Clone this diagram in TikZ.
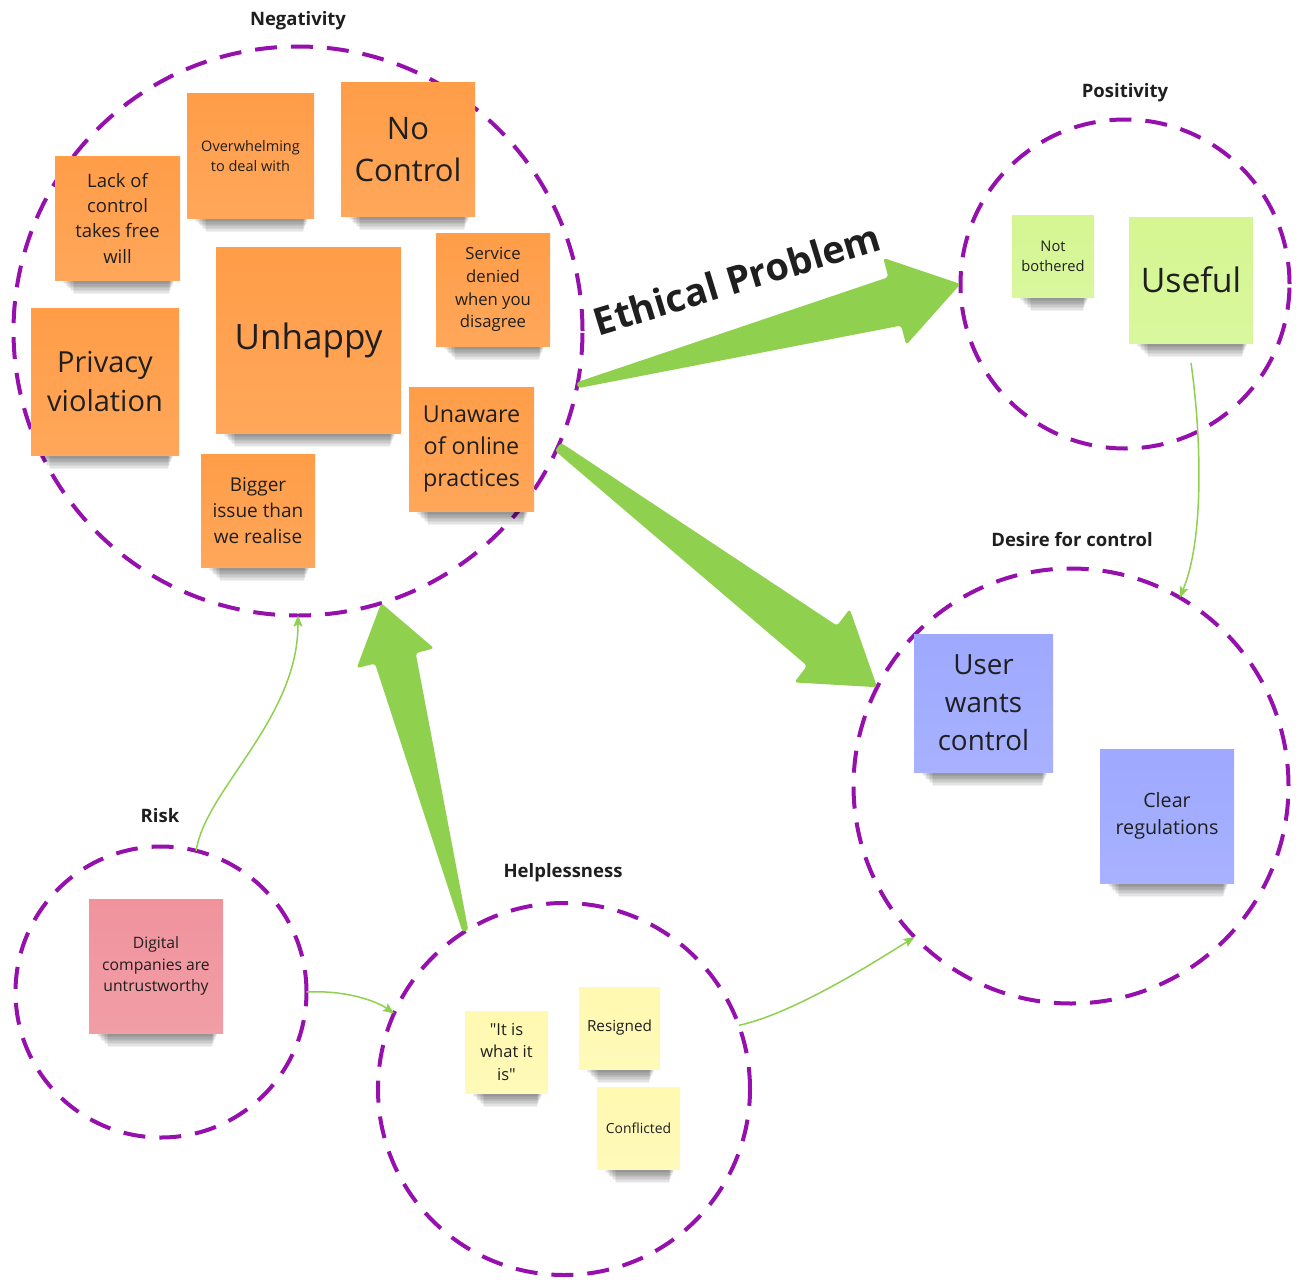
\documentclass[tikz,border=0pt]{standalone}
\usepackage{fontspec}
\setmainfont{Open Sans}[Ligatures=TeXOff]
\usetikzlibrary{arrows.meta,calc}

\definecolor{clusterpurple}{HTML}{9510AC}
\definecolor{flowgreen}{HTML}{8FD14F}
\definecolor{noteorange}{HTML}{FF9D48}
\definecolor{notegreen}{HTML}{D5F692}
\definecolor{noteblue}{HTML}{9EA9FF}
\definecolor{notered}{HTML}{F0939D}
\definecolor{noteyellow}{HTML}{FFF9B1}
\definecolor{inktext}{HTML}{1F1F1F}

% font of a given size with matching line spacing
\newcommand\sizedfont[1]{\fontsize{#1}{\fpeval{1.37*#1}pt}\selectfont}

% sticky note: name, x0, y0, x1, y1, colour, font size, text
\newcommand\stickynote[8]{%
  \foreach \k in {1,...,10}
    \fill[black, opacity=0.055] (#2+5+1.4*\k,#5-4) rectangle (#4-5-0.6*\k,#5+1.4*\k);
  \node[notebox, top color=#6, bottom color=#6!90!white,
        minimum width=#4-#2, minimum height=#5-#3, font=\sizedfont{#7}]
    (#1) at ({(#2+#4)/2},{(#3+#5)/2}) {#8};
}

% tapered block arrow: from, to, tail half width, shaft half width,
% head length, barb half width
\newcommand\greenarrow[6]{%
  \fill[flowgreen, rounded corners=3pt]
    let \p1=(#1), \p2=(#2),
        \n1={atan2(\y2-\y1,\x2-\x1)},
        \n2={veclen(\x2-\x1,\y2-\y1)}
    in [shift={(\p1)}, rotate=\n1]
    (0pt,-#3pt) -- ({\n2-#5pt},-#4pt) -- ({\n2-#5pt},-#6pt) -- (\n2,0pt)
    -- ({\n2-#5pt},#6pt) -- ({\n2-#5pt},#4pt) -- (0pt,#3pt) -- cycle;
}

\begin{document}
\begin{tikzpicture}[x=1pt, y=-1pt,
  cluster/.style={circle, draw=clusterpurple, line width=4pt,
    dash pattern=on 22pt off 14pt, inner sep=0pt, outer sep=0pt,
    minimum size=#1},
  grouplabel/.style={font=\bfseries\fontsize{18.5}{22}\selectfont, text=inktext},
  notebox/.style={inner sep=0pt, outer sep=0pt, text=inktext, align=center},
  link/.style={draw=flowgreen, line width=1.5pt,
    -{Stealth[length=11pt,width=9pt,inset=2pt]}},
]
\useasboundingbox (0,0) rectangle (1303,1279);
\fill[white] (0,0) rectangle (1303,1279);

% clusters
\node[cluster=569] (neg)  at (298,331)  {};
\node[cluster=329] (pos)  at (1125,284) {};
\node[cluster=435] (des)  at (1071,786) {};
\node[cluster=291] (risk) at (161,992)  {};
\node[cluster=372] (help) at (564,1089) {};

% cluster titles
\node[grouplabel] (negtitle)  at (298,21)   {Negativity};
\node[grouplabel] (postitle)  at (1125,93)  {Positivity};
\node[grouplabel] (destitle)  at (1072,540) {Desire for control};
\node[grouplabel] (risktitle) at (160,816)  {Risk};
\node[grouplabel] (helptitle) at (563,873)  {Helplessness};

% block arrows between clusters
\greenarrow{neg.-11}{pos.180}{3}{25}{68}{45}
\greenarrow{neg.-24}{des.153}{5}{25}{69}{46}
\greenarrow{help.122}{neg.-73}{3}{21}{57}{40}

\node[font=\bfseries\fontsize{38}{44}\selectfont, text=inktext, rotate=17]
  (ethical) at (737,279) {Ethical Problem};

% Negativity notes
\stickynote{lackctl}{55}{156}{180}{280}{noteorange}{18.5}{Lack of\\control\\takes free\\will}
\stickynote{overwh}{187}{94}{314}{218}{noteorange}{14.5}{Overwhelming\\to deal with}
\stickynote{noctl}{341}{83}{475}{216}{noteorange}{31}{No\\Control}
\stickynote{denied}{436}{233}{550}{346}{noteorange}{16.7}{Service\\denied\\when you\\disagree}
\stickynote{unhappy}{216}{247}{401}{433}{noteorange}{35}{Unhappy}
\stickynote{privacy}{31}{308}{179}{455}{noteorange}{29}{Privacy\\violation}
\stickynote{unaware}{409}{387}{534}{511}{noteorange}{23.3}{Unaware\\of online\\practices}
\stickynote{bigger}{201}{454}{315}{567}{noteorange}{19}{Bigger\\issue than\\we realise}

% Positivity notes
\stickynote{notbothered}{1012}{215}{1094}{297}{notegreen}{14.7}{Not\\bothered}
\stickynote{useful}{1129}{217}{1253}{343}{notegreen}{33.8}{Useful}

% Desire for control notes
\stickynote{userwants}{914}{634}{1053}{772}{noteblue}{27.8}{User\\wants\\control}
\stickynote{clearreg}{1100}{749}{1234}{883}{noteblue}{19.7}{Clear\\regulations}

% Risk note
\stickynote{digital}{89}{899}{223}{1033}{notered}{15.7}{Digital\\companies are\\untrustworthy}

% Helplessness notes
\stickynote{itis}{465}{1011}{548}{1093}{noteyellow}{16.5}{"It is\\what it\\is"}
\stickynote{resigned}{579}{987}{660}{1069}{noteyellow}{15.3}{Resigned}
\stickynote{conflicted}{597}{1087}{680}{1169}{noteyellow}{13.9}{Conflicted}

% thin links
\draw[link] (risk.76) .. controls ($(risk.76)+(9,-61)$) and ($(neg.-90)+(0,104)$) .. (neg.-90);
\draw[link] (risk.0) .. controls ($(risk.0)+(38,-2)$) and ($(help.156)+(-19,-13)$) .. (help.156);
\draw[link] (help.20) .. controls ($(help.20)+(55,-12)$) and ($(des.224)+(-40,25)$) .. (des.224);
\coordinate (usefulfoot) at ($(useful.south)+(0,20)$);
\draw[link] (usefulfoot) .. controls ($(usefulfoot)+(10,70)$) and ($(des.60)+(25,-60)$) .. (des.60);
\end{tikzpicture}
\end{document}
